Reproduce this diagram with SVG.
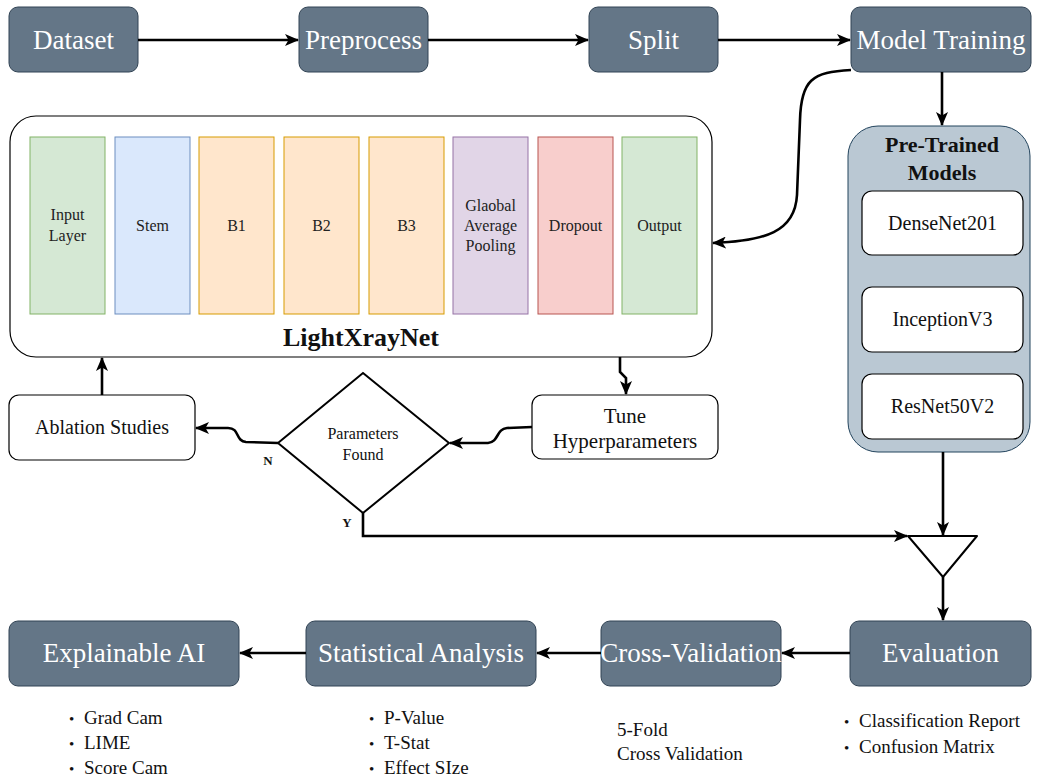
<svg xmlns="http://www.w3.org/2000/svg" width="1041" height="777" viewBox="0 0 1041 777">
<defs>
<marker id="arr" markerUnits="userSpaceOnUse" markerWidth="14" markerHeight="12" refX="13" refY="6" orient="auto">
<path d="M0,0 L14,6 L0,12 L3.5,6 z" fill="#000"/>
</marker>
<style>
.dark{fill:#647687;stroke:#314354;stroke-width:1}
.dt{font-family:"Liberation Serif","Times New Roman",serif;font-size:27px;fill:#fff;text-anchor:middle}
.wb{fill:#fff;stroke:#000;stroke-width:1.2}
.t{font-family:"Liberation Serif","Times New Roman",serif;fill:#111;text-anchor:middle}
.l{font-family:"Liberation Serif","Times New Roman",serif;font-size:16px;fill:#222;text-anchor:middle}
.li{font-family:"Liberation Serif","Times New Roman",serif;font-size:19px;fill:#111}
.b{font-size:15px}
.c{fill:none;stroke:#000;stroke-width:2.6;marker-end:url(#arr)}
</style>
</defs>
<rect width="1041" height="777" fill="#fff"/>

<g id="dataset"><rect class="dark" x="9" y="7" width="129" height="65" rx="9"/><text class="dt" x="73.5" y="49">Dataset</text></g>
<g id="preprocess"><rect class="dark" x="299" y="7" width="129" height="65" rx="9"/><text class="dt" x="363.5" y="49">Preprocess</text></g>
<g id="split"><rect class="dark" x="589" y="7" width="129" height="65" rx="9"/><text class="dt" x="653.5" y="49">Split</text></g>
<g id="model-training"><rect class="dark" x="851" y="7" width="180" height="65" rx="9"/><text class="dt" x="941" y="49">Model Training</text></g>

<g id="lightxraynet">
<rect x="10" y="116" width="702" height="241" rx="26" fill="#fff" stroke="#000" stroke-width="1.2"/>
<rect x="30" y="137" width="75" height="177" fill="#d5e8d4" stroke="#82b366"/>
<text class="l" x="67.5" y="220">Input</text><text class="l" x="67.5" y="241">Layer</text>
<rect x="115" y="137" width="75" height="177" fill="#dae8fc" stroke="#6c8ebf"/>
<text class="l" x="152.5" y="231">Stem</text>
<rect x="199" y="137" width="75" height="177" fill="#ffe6cc" stroke="#d79b00"/>
<text class="l" x="236.5" y="231">B1</text>
<rect x="284" y="137" width="75" height="177" fill="#ffe6cc" stroke="#d79b00"/>
<text class="l" x="321.5" y="231">B2</text>
<rect x="369" y="137" width="75" height="177" fill="#ffe6cc" stroke="#d79b00"/>
<text class="l" x="406.5" y="231">B3</text>
<rect x="453" y="137" width="75" height="177" fill="#e1d5e7" stroke="#9673a6"/>
<text class="l" x="490.5" y="211">Glaobal</text><text class="l" x="490.5" y="231">Average</text><text class="l" x="490.5" y="251">Pooling</text>
<rect x="538" y="137" width="75" height="177" fill="#f8cecc" stroke="#b85450"/>
<text class="l" x="575.5" y="231">Dropout</text>
<rect x="622" y="137" width="75" height="177" fill="#d5e8d4" stroke="#82b366"/>
<text class="l" x="659.5" y="231">Output</text>
<text class="t" x="361" y="346" font-size="26" font-weight="bold">LightXrayNet</text>
</g>

<g id="pretrained">
<rect x="848" y="126" width="182" height="326" rx="30" fill="#bac8d3" stroke="#23445d" stroke-width="1"/>
<text class="t" x="942" y="152" font-size="22" font-weight="bold">Pre-Trained</text>
<text class="t" x="942" y="180" font-size="22" font-weight="bold">Models</text>
</g>
<g id="densenet"><rect class="wb" x="862" y="191" width="161" height="64" rx="10"/><text class="t" x="942.5" y="230" font-size="20">DenseNet201</text></g>
<g id="inception"><rect class="wb" x="862" y="287" width="161" height="65" rx="10"/><text class="t" x="942.5" y="326" font-size="20">InceptionV3</text></g>
<g id="resnet"><rect class="wb" x="862" y="374" width="161" height="65" rx="10"/><text class="t" x="942.5" y="413" font-size="20">ResNet50V2</text></g>

<g id="ablation"><rect class="wb" x="9" y="395" width="186" height="65" rx="10"/><text class="t" x="102" y="434" font-size="20">Ablation Studies</text></g>
<g id="tune"><rect class="wb" x="532" y="395" width="186" height="64" rx="10"/><text class="t" x="625" y="423" font-size="21">Tune</text><text class="t" x="625" y="448" font-size="21">Hyperparameters</text></g>
<g id="decision"><polygon points="363,373 449,443 363,513 278,443" fill="#fff" stroke="#000" stroke-width="2"/><text class="t" x="363" y="439" font-size="16">Parameters</text><text class="t" x="363" y="460" font-size="16">Found</text></g>
<g id="merge"><polygon points="908,536 977,536 943,577" fill="#fff" stroke="#000" stroke-width="2" stroke-linejoin="round"/></g>

<g id="explainable"><rect class="dark" x="9" y="621" width="230" height="65" rx="9"/><text class="dt" x="124" y="662">Explainable AI</text></g>
<g id="statistical"><rect class="dark" x="306" y="621" width="230" height="65" rx="9"/><text class="dt" x="421" y="662">Statistical Analysis</text></g>
<g id="crossval"><rect class="dark" x="601" y="621" width="180" height="65" rx="9"/><text class="dt" x="691" y="662">Cross-Validation</text></g>
<g id="evaluation"><rect class="dark" x="850" y="621" width="181" height="65" rx="9"/><text class="dt" x="940.5" y="662">Evaluation</text></g>

<g id="notes">
<text class="li" x="69" y="724"><tspan class="b">•</tspan><tspan x="84">Grad Cam</tspan></text>
<text class="li" x="69" y="749"><tspan class="b">•</tspan><tspan x="84">LIME</tspan></text>
<text class="li" x="69" y="774"><tspan class="b">•</tspan><tspan x="84">Score Cam</tspan></text>
<text class="li" x="369" y="724"><tspan class="b">•</tspan><tspan x="384">P-Value</tspan></text>
<text class="li" x="369" y="749"><tspan class="b">•</tspan><tspan x="384">T-Stat</tspan></text>
<text class="li" x="369" y="774"><tspan class="b">•</tspan><tspan x="384">Effect SIze</tspan></text>
<text class="li" x="617" y="736">5-Fold</text>
<text class="li" x="617" y="760">Cross Validation</text>
<text class="li" x="844" y="727"><tspan class="b">•</tspan><tspan x="859">Classification Report</tspan></text>
<text class="li" x="844" y="753"><tspan class="b">•</tspan><tspan x="859">Confusion Matrix</tspan></text>
<text class="t" x="268" y="465" font-size="13" font-weight="bold">N</text>
<text class="t" x="347" y="527" font-size="13" font-weight="bold">Y</text>
</g>

<g id="connectors">
<path class="c" d="M138 40 L298 40"/>
<path class="c" d="M428 40 L588 40"/>
<path class="c" d="M718 40 L850 40"/>
<path class="c" d="M942 72 L942 125"/>
<path class="c" d="M851 70 C812 72 801 80 800 120 L797 195 C795 232 765 241 713 243"/>
<path class="c" d="M102 395 L102 358"/>
<path class="c" d="M620 357 L620 372 L626 378 L626 394"/>
<path class="c" d="M532 427 L507 428 C496 429 499 442 488 443 L450 443"/>
<path class="c" d="M278 443 L246 442 C235 441 240 428 228 428 L196 428"/>
<path class="c" d="M363 513 L363 536 L907 536"/>
<path class="c" d="M943 452 L943 535"/>
<path class="c" d="M943 577 L943 620"/>
<path class="c" d="M850 653 L782 653"/>
<path class="c" d="M601 653 L537 653"/>
<path class="c" d="M306 653 L240 653"/>
</g>
</svg>
